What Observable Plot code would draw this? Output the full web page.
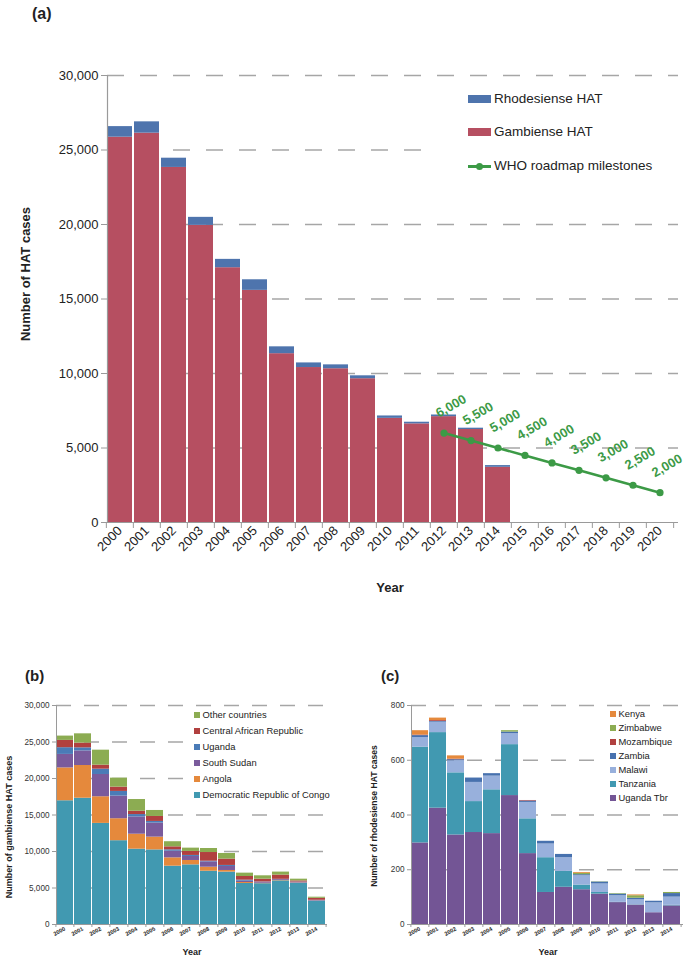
<!DOCTYPE html>
<html><head><meta charset="utf-8">
<script src="https://cdn.jsdelivr.net/npm/d3@7"></script>
<script src="https://cdn.jsdelivr.net/npm/@observablehq/plot@0.6"></script>
<style>
body{margin:0;background:#fff;}
#root{position:relative;width:688px;height:959px;overflow:hidden;font-family:"Liberation Sans",Arial,sans-serif;color:#222;background:#fff;}
.abs{position:absolute;white-space:nowrap;line-height:1;}
.panel{position:absolute;top:0;left:0;}
.ylab{transform:translate(-50%,-50%) rotate(-90deg);font-weight:bold;}
.ctr{transform:translate(-50%,-50%);}
</style></head><body><div id="root"></div><script>
// ---------- data: panel (a) ----------
const yearsA = ["2000","2001","2002","2003","2004","2005","2006","2007","2008","2009","2010","2011","2012","2013","2014","2015","2016","2017","2018","2019","2020"];
const yearsObs = ["2000","2001","2002","2003","2004","2005","2006","2007","2008","2009","2010","2011","2012","2013","2014"];
const gambiense   = [25860, 26130, 23830, 19940, 17100, 15580, 11330, 10400, 10320, 9650, 6990, 6620, 7105, 6240, 3705];
const rhodesiense = [710, 760, 620, 540, 560, 710, 460, 310, 260, 195, 160, 110, 110, 90, 115];
const milestoneYears  = ["2012","2013","2014","2015","2016","2017","2018","2019","2020"];
const milestoneValues = [6000, 5500, 5000, 4500, 4000, 3500, 3000, 2500, 2000];
const yTicksA = [0, 5000, 10000, 15000, 20000, 25000, 30000];

// ---------- data: panel (b) gambiense by country ----------
const seriesB = ["Democratic Republic of Congo","Angola","South Sudan","Uganda","Central African Republic","Other countries"];
const drc        = [16950, 17300, 13850, 11480, 10320, 10220, 7990, 8170, 7300, 7180, 5620, 5590, 5980, 5650, 3200];
const angola     = [4500, 4480, 3650, 3010, 2050, 1750, 1140, 600, 550, 220, 135, 60, 70, 40, 20];
const southSudan = [1850, 2000, 3050, 3100, 2370, 1920, 910, 550, 730, 550, 180, 150, 120, 110, 90];
const ugandaG    = [920, 420, 730, 640, 320, 230, 190, 140, 90, 140, 140, 30, 20, 20, 10];
const car        = [1000, 650, 550, 590, 460, 680, 410, 550, 1190, 870, 500, 380, 580, 150, 270];
const otherG     = [590, 1270, 2050, 1230, 1600, 820, 700, 450, 550, 770, 460, 460, 410, 240, 150];
const yTicksB = [0, 5000, 10000, 15000, 20000, 25000, 30000];

// ---------- data: panel (c) rhodesiense by country ----------
const seriesC = ["Uganda Tbr","Tanzania","Malawi","Zambia","Mozambique","Zimbabwe","Kenya"];
const ugandaR    = [298, 425, 327, 336, 332, 471, 259, 117, 136, 127, 111, 80, 71, 43, 68];
const tanzania   = [350, 276, 227, 113, 160, 186, 127, 127, 58, 17, 6, 1, 1, 0, 2];
const malawi     = [35, 38, 44, 70, 50, 40, 60, 50, 50, 34, 31, 24, 18, 36, 30];
const zambia     = [7, 3, 4, 16, 9, 6, 5, 10, 12, 4, 7, 6, 6, 6, 13];
const mozambique = [2, 3, 2, 0, 0, 0, 2, 0, 0, 0, 0, 0, 0, 0, 0];
const zimbabwe   = [0, 0, 0, 0, 0, 5, 0, 0, 0, 5, 1, 2, 9, 0, 4];
const kenya      = [16, 9, 12, 0, 0, 0, 0, 0, 0, 3, 0, 0, 3, 0, 0];
const yTicksC = [0, 200, 400, 600, 800];

// ---------- styling ----------
const FONT = "Liberation Sans, Arial, sans-serif";
const GREEN = "#3c9a46";
const colorsA = {"Gambiense HAT": "#b64f61", "Rhodesiense HAT": "#4e74ad"};
const colorsB = ["#4199b1","#e5893c","#7a5b9c","#4a7bb7","#b1403f","#8cac52"];
const colorsC = ["#735595","#4199b1","#98b0dc","#4771ae","#b1403f","#8cac52","#e5893c"];
const AXIS = "#9a9a9a", GRID = "#a6a6a6";
const fmt = d3.format(",");

function longTable(years, names, arrays) {
  const rows = [];
  names.forEach((n, i) => arrays[i].forEach((v, j) => rows.push({year: years[j], series: n, value: v})));
  return rows;
}
const tableA = longTable(yearsObs, ["Gambiense HAT","Rhodesiense HAT"], [gambiense, rhodesiense]);
const milestones = milestoneYears.map((y, i) => ({year: y, value: milestoneValues[i]}));
const tableB = longTable(yearsObs, seriesB, [drc, angola, southSudan, ugandaG, car, otherG]);
const tableC = longTable(yearsObs, seriesC, [ugandaR, tanzania, malawi, zambia, mozambique, zimbabwe, kenya]);

const root = document.getElementById("root");
function addDiv(style) {
  const d = document.createElement("div");
  d.className = "abs";
  Object.assign(d.style, style);
  root.appendChild(d);
  return d;
}
function addText(txt, x, y, cls, style) {
  const d = document.createElement("div");
  d.className = "abs " + (cls || "");
  d.textContent = txt;
  d.style.left = x + "px"; d.style.top = y + "px";
  Object.assign(d.style, style || {});
  root.appendChild(d);
  return d;
}
function addPanel(svg, left, top) {
  const w = document.createElement("div");
  w.className = "panel";
  w.style.left = left + "px"; w.style.top = top + "px";
  w.appendChild(svg);
  root.appendChild(w);
}

// ---------- panel (a) ----------
{
  const W = 688, H = 600, ml = 107, mr = 10, mt = 75, mb = 78, pin = 0.07;
  const step = (W - ml - mr) / (yearsA.length - pin);
  const svg = Plot.plot({
    width: W, height: H, marginTop: mt, marginBottom: mb, marginLeft: ml, marginRight: mr,
    style: {fontFamily: FONT, fontSize: "13px", background: "none", overflow: "visible"},
    x: {type: "band", domain: yearsA, paddingInner: pin, paddingOuter: 0, align: 0},
    y: {domain: [0, 30000]},
    color: {domain: Object.keys(colorsA), range: Object.values(colorsA)},
    marks: [
      Plot.ruleY(yTicksA.slice(1), {stroke: GRID, strokeWidth: 1.4, strokeDasharray: "17,16"}),
      Plot.barY(tableA, {x: "year", y: "value", fill: "series"}),
      Plot.ruleY([0], {stroke: AXIS, strokeWidth: 1.2}),
      Plot.frame({anchor: "left", stroke: AXIS, strokeWidth: 1.2}),
      Plot.axisY({ticks: yTicksA, tickFormat: fmt, tickSize: 6, tickPadding: 3, stroke: AXIS, fill: "#222", label: null}),
      Plot.axisX({tickSize: 0, tickRotate: -45, tickPadding: 6, fill: "#222", label: null}),
      Plot.axisX({ticks: yearsA, tickFormat: () => "", tickSize: 6, dx: -step / 2, stroke: AXIS, label: null}),
      Plot.axisX({ticks: [yearsA[yearsA.length - 1]], tickFormat: () => "", tickSize: 6, dx: step / 2, stroke: AXIS, label: null}),
      Plot.line(milestones, {x: "year", y: "value", stroke: GREEN, strokeWidth: 2.6}),
      Plot.dot(milestones, {x: "year", y: "value", r: 3.6, fill: GREEN}),
      Plot.text(milestones, {x: "year", y: "value", text: d => fmt(d.value), rotate: -30, dx: 7, dy: -27,
        fill: GREEN, fontWeight: "bold", fontSize: 13})
    ]
  });
  addPanel(svg, 0, 0);
  addText("(a)", 32, 6, "", {fontWeight: "bold", fontSize: "16px"});
  addText("Number of HAT cases", 25, 274, "ylab", {fontSize: "13px"});
  addText("Year", 390, 587, "ctr", {fontWeight: "bold", fontSize: "13px"});
  // legend box (white, hides gridlines behind it)
  addDiv({left: "428px", top: "82px", width: "252px", height: "100px", background: "#fff"});
  const lg = [["Rhodesiense HAT", 99, "rect", colorsA["Rhodesiense HAT"]],
              ["Gambiense HAT", 132, "rect", colorsA["Gambiense HAT"]],
              ["WHO roadmap milestones", 166, "line", GREEN]];
  lg.forEach(([t, y, kind, c]) => {
    if (kind === "rect") {
      addDiv({left: "468px", top: (y - 4) + "px", width: "23px", height: "8px", background: c});
    } else {
      addDiv({left: "468px", top: (y - 1) + "px", width: "23px", height: "2.5px", background: c});
      addDiv({left: "476px", top: (y - 3.5) + "px", width: "7px", height: "7px", borderRadius: "50%", background: c});
    }
    addText(t, 494, y, "", {fontSize: "13.5px", transform: "translateY(-50%)"});
  });
}

// ---------- small panels helper ----------
function smallPanel({table, series, colors, ticks, ymax, ml, mr, tickFmt}) {
  const W = 344, H = 300, mt = 45, mb = 36, pin = 0.08;
  const step = (W - ml - mr) / (yearsObs.length - pin);
  return Plot.plot({
    width: W, height: H, marginTop: mt, marginBottom: mb, marginLeft: ml, marginRight: mr,
    style: {fontFamily: FONT, fontSize: "8.2px", background: "none", overflow: "visible"},
    x: {type: "band", domain: yearsObs, paddingInner: pin, paddingOuter: 0, align: 0},
    y: {domain: [0, ymax]},
    color: {domain: series, range: colors},
    marks: [
      Plot.ruleY(ticks.slice(1), {stroke: GRID, strokeWidth: 1.3, strokeDasharray: "15,13"}),
      Plot.barY(table, {x: "year", y: "value", fill: "series"}),
      Plot.ruleY([0], {stroke: AXIS, strokeWidth: 1}),
      Plot.frame({anchor: "left", stroke: AXIS, strokeWidth: 1}),
      Plot.axisY({ticks, tickFormat: tickFmt, tickSize: 4, tickPadding: 3, stroke: AXIS, fill: "#333", label: null}),
      Plot.axisX({tickSize: 0, tickRotate: -28, tickPadding: 4, fill: "#222", fontSize: 5.6, fontWeight: "bold", label: null}),
      Plot.axisX({ticks: yearsObs, tickFormat: () => "", tickSize: 3, dx: -step / 2, stroke: AXIS, label: null}),
      Plot.axisX({ticks: [yearsObs[yearsObs.length - 1]], tickFormat: () => "", tickSize: 3, dx: step / 2, stroke: AXIS, label: null})
    ]
  });
}
function smallLegend(items, colors, x, y0, dy, box) {
  addDiv({left: box[0] + "px", top: box[1] + "px", width: box[2] + "px", height: box[3] + "px", background: "#fff"});
  items.slice().reverse().forEach((t, i) => {
    const c = colors[items.length - 1 - i];
    const y = y0 + i * dy;
    addDiv({left: x + "px", top: (y - 3) + "px", width: "6px", height: "6px", background: c});
    addText(t, x + 8.5, y, "", {fontSize: "9.4px", transform: "translateY(-50%)"});
  });
}

// ---------- panel (b) ----------
addPanel(smallPanel({table: tableB, series: seriesB, colors: colorsB, ticks: yTicksB, ymax: 30000,
  ml: 56, mr: 17, tickFmt: fmt}), 0, 660);
addText("(b)", 25, 668, "", {fontWeight: "bold", fontSize: "15px"});
addText("Number of gambiense HAT cases", 8.5, 827, "ylab", {fontSize: "9px"});
addText("Year", 192, 952, "ctr", {fontWeight: "bold", fontSize: "9px"});
smallLegend(seriesB, colorsB, 194, 715, 16, [183, 708, 150, 96]);

// ---------- panel (c) ----------
addPanel(smallPanel({table: tableC, series: seriesC, colors: colorsC, ticks: yTicksC, ymax: 800,
  ml: 67, mr: 5, tickFmt: d3.format("d")}), 344, 660);
addText("(c)", 381, 668, "", {fontWeight: "bold", fontSize: "15px"});
addText("Number of rhodesiense HAT cases", 373.5, 816, "ylab", {fontSize: "8.6px"});
addText("Year", 548, 952, "ctr", {fontWeight: "bold", fontSize: "9px"});
smallLegend(seriesC, colorsC, 610, 714, 14, [595, 708, 93, 97]);
</script></body></html>
